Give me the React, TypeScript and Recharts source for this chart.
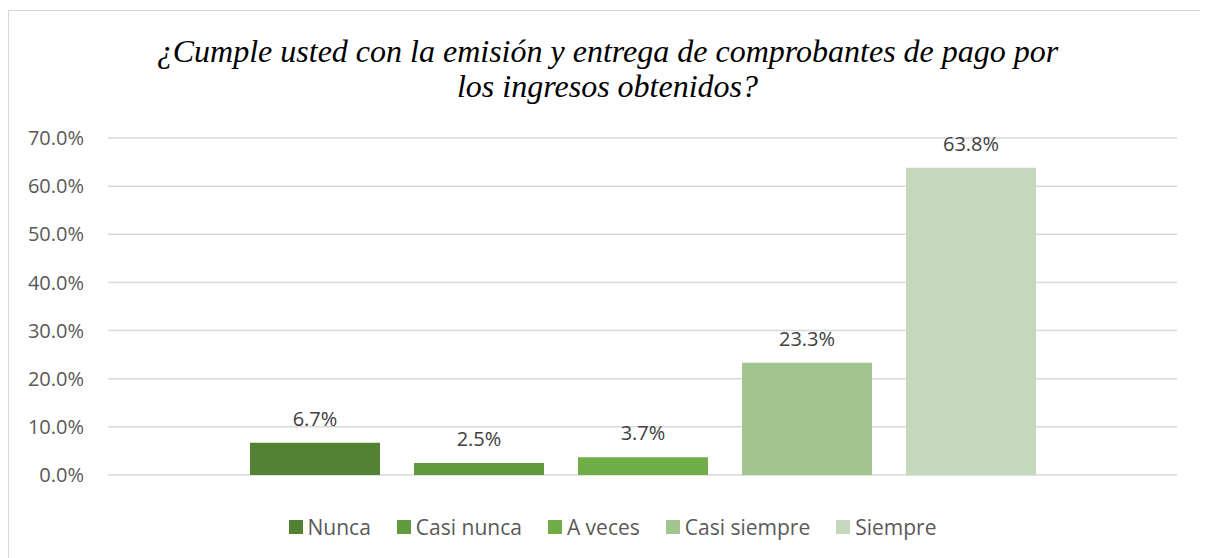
import { BarChart, Bar, XAxis, YAxis, CartesianGrid, Legend, LabelList } from 'recharts'

const categories = ['Nunca', 'Casi nunca', 'A veces', 'Casi siempre', 'Siempre']
const values = [6.7, 2.5, 3.7, 23.3, 63.8]
const colors = ['#548235', '#629b3d', '#70ad47', '#a2c58f', '#c5d8bc']
const yTicks = [0, 10, 20, 30, 40, 50, 60, 70]
const titleLines = [
  '¿Cumple usted con la emisión y entrega de comprobantes de pago por',
  'los ingresos obtenidos?',
]

const row: Record<string, string | number> = { name: '' }
categories.forEach((c, i) => {
  row[c] = values[i]
})
const data = [row]

const fmt = (v: number) => `${Number(v).toFixed(1)}%`

const LegendBox = () => (
  <div
    style={{
      display: 'flex',
      justifyContent: 'center',
      alignItems: 'center',
      gap: 26,
      height: 30,
      fontFamily: '"Open Sans", sans-serif',
      fontSize: 21,
      color: '#595959',
      paddingLeft: 39,
    }}
  >
    {categories.map((c, i) => (
      <div key={c} style={{ display: 'flex', alignItems: 'center' }}>
        <span style={{ width: 14, height: 14, background: colors[i], marginRight: 5 }} />
        <span>{c}</span>
      </div>
    ))}
  </div>
)

export default function App() {
  return (
    <div
      style={{
        position: 'relative',
        top: 2,
        width: 1199,
        height: 560,
        boxSizing: 'border-box',
        border: '1px solid #d9d9d9',
        background: '#fff',
      }}
    >
      <div
        style={{
          position: 'absolute',
          top: 23,
          left: 0,
          width: 1197,
          textAlign: 'center',
          fontFamily: '"Liberation Serif", serif',
          fontStyle: 'italic',
          fontSize: 32,
          lineHeight: '35px',
          color: '#000',
        }}
      >
        {titleLines.map((l) => (
          <div key={l}>{l}</div>
        ))}
      </div>
      <BarChart
        width={1197}
        height={548}
        data={data}
        barSize={130}
        barGap={34}
        margin={{ top: 127, right: 29, bottom: 17, left: 0 }}
      >
        <CartesianGrid vertical={false} stroke="#d9d9d9" strokeWidth={1.5} />
        <XAxis dataKey="name" tick={false} axisLine={false} tickLine={false} height={37} />
        <YAxis
          width={99}
          domain={[0, 70]}
          ticks={yTicks}
          tickFormatter={fmt}
          axisLine={false}
          tickLine={false}
          tickMargin={18}
          tick={{ fill: '#595959', fontSize: 20, fontFamily: '"Open Sans", sans-serif' }}
        />
        <Legend verticalAlign="bottom" content={<LegendBox />} />
        {categories.map((c, i) => (
          <Bar key={c} dataKey={c} fill={colors[i]} isAnimationActive={false}>
            <LabelList
              dataKey={c}
              position="top"
              offset={17}
              formatter={(v: number) => fmt(v)}
              style={{ fill: '#404040', fontSize: 20, fontFamily: '"Open Sans", sans-serif' }}
            />
          </Bar>
        ))}
      </BarChart>
    </div>
  )
}
